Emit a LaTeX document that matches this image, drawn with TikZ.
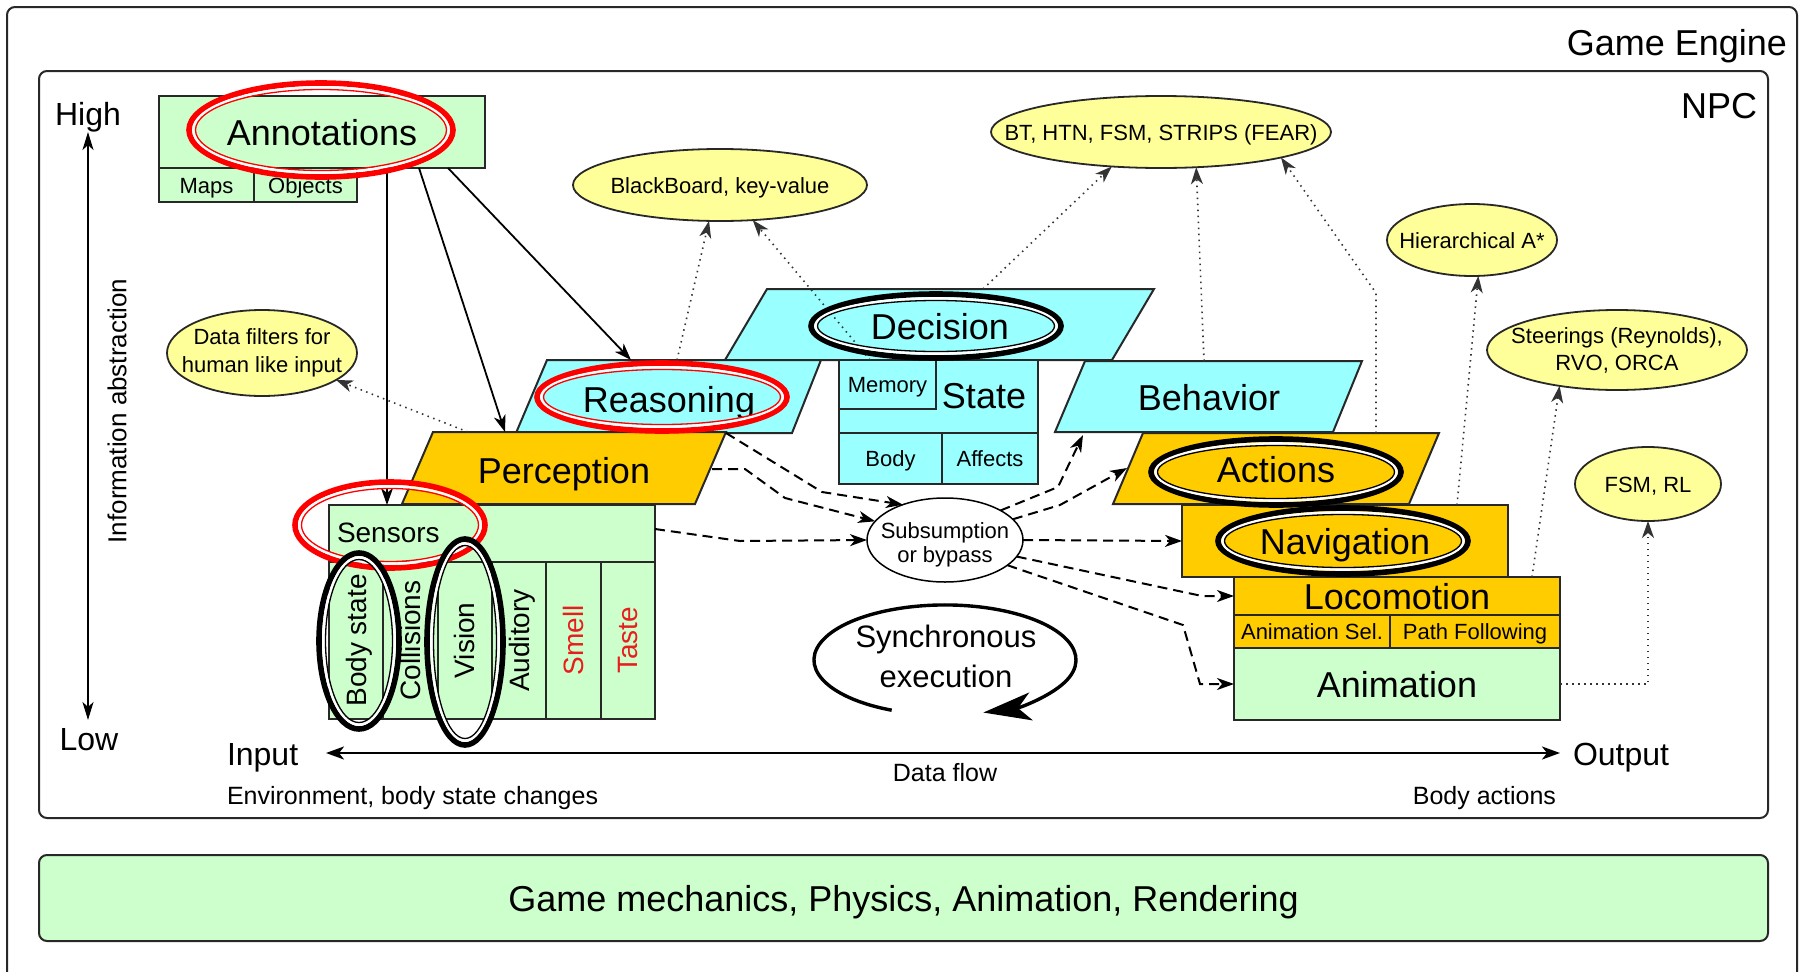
\documentclass[tikz,border=0pt]{standalone}
\usepackage{fontspec}
\setmainfont{Liberation Sans}
\usetikzlibrary{arrows.meta,shapes.geometric}
\definecolor{lgreen}{RGB}{204,255,204}
\definecolor{lcyan}{RGB}{153,255,255}
\definecolor{lorange}{RGB}{255,204,0}
\definecolor{lyellow}{RGB}{255,255,153}
\definecolor{bord}{RGB}{40,40,40}
\definecolor{sred}{RGB}{232,30,30}
\newcommand{\FSz}[2]{\fontsize{#1}{#2}\selectfont}
\newcommand{\DblEll}[5]{%
  \draw[#1, line width=5.6pt] (#2,#3) ellipse [x radius=#4, y radius=#5];
  \draw[white, line width=2.6pt] (#2,#3) ellipse [x radius=#4-4.5, y radius=#5-4.5];
  \draw[#1, line width=1.3pt] (#2,#3) ellipse [x radius=#4-6.5, y radius=#5-6.5];}
\tikzset{
  bx/.style={draw=bord, line width=2pt, inner sep=0pt, outer sep=0pt},
  gbox/.style={bx, fill=lgreen},
  cbox/.style={bx, fill=lcyan},
  obox/.style={bx, fill=lorange},
  para/.style={draw=bord, line width=2pt},
  f36/.style={font=\FSz{36}{42}, text height=26pt, text depth=0pt},
  f22/.style={font=\FSz{22}{27}, text height=16pt, text depth=0pt},
  f28/.style={font=\FSz{28}{32}, text height=20pt, text depth=0pt},
  tx/.style={inner sep=0pt, outer sep=0pt},
  yel/.style={ellipse, draw=bord, line width=1.8pt, fill=lyellow, inner sep=0pt, outer sep=0pt},
  arrowtip/.style={-{Stealth[length=17pt,width=12pt,inset=5pt]}},
  solidc/.style={line width=1.8pt, arrowtip},
  dashc/.style={line width=2pt, dash pattern=on 10pt off 6pt, arrowtip},
  dotc/.style={line width=1.6pt, dash pattern=on 1.5pt off 4.5pt, draw=black!80, arrowtip},
  frame/.style={draw=bord, line width=2pt, rounded corners=8pt},
}
\begin{document}
\begin{tikzpicture}[x=1pt,y=-1pt]
\useasboundingbox (0,0) rectangle (1800,972);
\clip (0,0) rectangle (1800,972);
\fill[white] (0,0) rectangle (1800,972);

% frames
\draw[frame] (7,7) rectangle (1797,1010);
\draw[frame] (39,71) rectangle (1768,818);
\node[tx, font=\FSz{36}{42}, anchor=base east] (ge) at (1787,55) {Game Engine};
\node[tx, font=\FSz{36}{42}, anchor=base east] (npc) at (1757,118) {NPC};
\node[gbox, minimum width=1729, minimum height=86, rounded corners=8pt, f36] (gm) at (903.5,898) {Game mechanics, Physics, Animation, Rendering};

% abstraction axis
\node[tx, font=\FSz{32}{36}, anchor=base] (high) at (88,125) {High};
\node[tx, font=\FSz{32}{36}, anchor=base] (low) at (89,750) {Low};
\coordinate (hiTip) at (88,132);
\coordinate (loTip) at (88,720);
\draw[line width=2pt, {Stealth[length=18pt,width=11pt,inset=5pt]}-{Stealth[length=18pt,width=11pt,inset=5pt]}] (hiTip) -- (loTip);
\node[tx, font=\FSz{26}{30}, rotate=90] (infab) at (117,411) {Information abstraction};

% data flow axis
\node[tx, font=\FSz{32}{36}, anchor=base west] (input) at (227,765) {Input};
\node[tx, font=\FSz{32}{36}, anchor=base west] (output) at (1573,765) {Output};
\coordinate (inTip) at (326,753);
\coordinate (outTip) at (1560,753);
\draw[line width=2.5pt, {Stealth[length=18pt,width=13pt,inset=5pt]}-{Stealth[length=18pt,width=13pt,inset=5pt]}] (inTip) -- (outTip);
\node[tx, font=\FSz{25}{30}, anchor=base] (dflow) at (945,781) {Data flow};
\node[tx, font=\FSz{25}{30}, anchor=base west] (envt) at (227,804) {Environment, body state changes};
\node[tx, font=\FSz{25}{30}, anchor=base east] (bact) at (1556,804) {Body actions};

% annotations
\node[gbox, minimum width=326, minimum height=72, f36] (annot) at (322,132) {Annotations};
\node[gbox, minimum width=95, minimum height=34, f22] (maps) at (206.5,185) {Maps};
\node[gbox, minimum width=103, minimum height=34, f22] (objs) at (305.5,185) {Objects};

% yellow ellipses
\node[yel, minimum width=294, minimum height=72] (bb) at (720,185) {};
\node[tx, f22] (bbt) at (bb.center) {BlackBoard, key-value};
\node[yel, minimum width=190, minimum height=86] (df) at (262,353) {};
\node[tx, font=\FSz{22}{28}, align=center] (dft) at (df.center) {Data filters for\\human like input};
\node[yel, minimum width=340, minimum height=72] (bt) at (1161,132) {};
\node[tx, f22] (btt) at (bt.center) {BT, HTN, FSM, STRIPS (FEAR)};
\node[yel, minimum width=170, minimum height=72] (ha) at (1472,240) {};
\node[tx, f22] (hat) at (ha.center) {Hierarchical A*};
\node[yel, minimum width=260, minimum height=80] (st) at (1617,350) {};
\node[tx, font=\FSz{22}{27}, align=center] (stt) at (st.center) {Steerings (Reynolds),\\RVO, ORCA};
\node[yel, minimum width=146, minimum height=74] (fsm) at (1648,484) {};
\node[tx, f22] (fsmt) at (fsm.center) {FSM, RL};

% decision / reasoning / state / behavior
\draw[para, fill=lcyan] (725,360) -- (1112,360) -- (1154,289) -- (767,289) -- cycle;
\node[tx, font=\FSz{36}{42}, anchor=base] (dec) at (940,339) {Decision};
\draw[para, fill=lcyan] (516,433) -- (792,433) -- (821,360) -- (547,360) -- cycle;
\node[tx, font=\FSz{36}{42}, anchor=base] (reas) at (669,412) {Reasoning};
\node[cbox, minimum width=199, minimum height=73] (state) at (938.5,396.5) {};
\node[tx, font=\FSz{36}{42}, anchor=base] (statet) at (984,408) {State};
\node[cbox, minimum width=97, minimum height=49, f22] (mem) at (887.5,384.5) {Memory};
\node[cbox, minimum width=103, minimum height=51, f22] (body) at (890.5,458.5) {Body};
\node[cbox, minimum width=96, minimum height=51, f22] (aff) at (990,458.5) {Affects};
\draw[para, fill=lcyan] (1055,432) -- (1333,432) -- (1362,361) -- (1085,361) -- cycle;
\node[tx, font=\FSz{36}{42}, anchor=base] (beh) at (1209,410) {Behavior};

% perception and sensors
\draw[para, fill=lorange] (402,504) -- (695,504) -- (726,432) -- (433,432) -- cycle;
\node[tx, font=\FSz{36}{42}, anchor=base] (perc) at (564,483) {Perception};
\node[gbox, minimum width=326, minimum height=57] (sens) at (492,533.5) {};
\node[tx, font=\FSz{28}{32}, anchor=base west] (senst) at (337,542) {Sensors};
\node[gbox, minimum width=157, minimum height=54.33, rotate=90, f28] (cbody) at (356.2,640.5) {Body state};
\node[gbox, minimum width=157, minimum height=54.33, rotate=90, f28] (ccoll) at (410.5,640.5) {Collisions};
\node[gbox, minimum width=157, minimum height=54.33, rotate=90, f28] (cvis) at (464.8,640.5) {Vision};
\node[gbox, minimum width=157, minimum height=54.33, rotate=90, f28] (caud) at (519.2,640.5) {Auditory};
\node[gbox, minimum width=157, minimum height=54.33, rotate=90, f28, text=sred] (csme) at (573.5,640.5) {Smell};
\node[gbox, minimum width=157, minimum height=54.33, rotate=90, f28, text=sred] (ctas) at (627.8,640.5) {Taste};

% actions, navigation, locomotion, animation
\draw[para, fill=lorange] (1113,504) -- (1409,504) -- (1439,433) -- (1143,433) -- cycle;
\node[tx, font=\FSz{36}{42}, anchor=base] (act) at (1276,482) {Actions};
\node[obox, minimum width=326, minimum height=72, f36] (nav) at (1345,541) {Navigation};
\node[obox, minimum width=326, minimum height=38, f36] (loco) at (1397,596) {Locomotion};
\node[obox, minimum width=156, minimum height=33, f22] (asel) at (1312,631.5) {Animation Sel.};
\node[obox, minimum width=170, minimum height=33, f22] (pfol) at (1475,631.5) {Path Following};
\node[gbox, minimum width=326, minimum height=72, f36] (anim) at (1397,684) {Animation};

% subsumption
\node[ellipse, draw=black, line width=1.5pt, fill=white, minimum width=156, minimum height=84, inner sep=0pt, outer sep=0pt] (sub) at (945,540) {};
\node[tx, font=\FSz{22}{24}, align=center] (subt) at (945,545) {Subsumption\\or bypass};

% synchronous execution
\node[tx, font=\FSz{31}{40}, align=center] (sync) at (946,656) {Synchronous\\execution};
\coordinate (syncStart) at (891.7,710.2);
\draw[line width=3.4pt, -{Stealth[length=48pt,width=28pt,inset=13pt]}] (syncStart) arc[start angle=114, end angle=433, x radius=131, y radius=55];

% solid arrows from annotations
\coordinate (anA) at (387,168);
\coordinate (anB) at (419,168);
\coordinate (anC) at (448,168);
\coordinate (sensTop) at (387,505);
\coordinate (percTop) at (505,432);
\coordinate (reasTop) at (631,360);
\draw[solidc] (anA) -- (sensTop);
\draw[solidc] (anB) -- (percTop);
\draw[solidc] (anC) -- (reasTop);

% dotted arrows
\coordinate (percTopL) at (468,432);
\coordinate (reasTopR) at (677,360);
\coordinate (memTop) at (870,360);
\coordinate (decTop) at (983,289);
\coordinate (behTop) at (1204,361);
\coordinate (actTop) at (1376,433);
\coordinate (actBend) at (1376,293);
\coordinate (navTop) at (1457,505);
\coordinate (locTop) at (1532,577);
\draw[dotc] (percTopL) -- (df.340);
\draw[dotc] (reasTopR) -- (bb.253);
\draw[dotc] (memTop) -- (bb.313);
\draw[dotc] (decTop) -- (bt.215);
\draw[dotc] (behTop) -- (bt.315);
\draw[dotc] (actTop) -- (actBend) -- (bt.348);
\draw[dotc] (navTop) -- (ha.280);
\draw[dotc] (locTop) -- (st.212);
\draw[dotc] (anim.east) -| (fsm.south);

% dashed arrows
\coordinate (percTR) at (726,433);
\coordinate (percR) at (712,469);
\coordinate (sensR) at (655,529);
\coordinate (behBot) at (1083,435);
\coordinate (actL) at (1127,468);
\draw[dashc] (percTR) -- (822,492) -- (sub.140);
\draw[dashc] (percR) -- (745,469) -- (785,498) -- (sub.165);
\draw[dashc] (sensR) -- (740,541) -- (sub.180);
\draw[dashc] (sub.28) -- (1058,487) -- (behBot);
\draw[dashc] (sub.17) -- (1060,505) -- (actL);
\draw[dashc] (sub.0) -- (nav.west);
\draw[dashc] (sub.347) -- (1202,596) -- (loco.west);
\draw[dashc] (sub.338) -- (1183,625) -- (1200,684) -- (anim.west);

% highlight ellipses
\DblEll{red}{321}{130}{132}{47}
\DblEll{red}{662}{397}{125}{34}
\DblEll{black}{936}{326}{125}{32}
\DblEll{red}{390}{525}{95}{43}
\DblEll{black}{359}{641}{40}{88}
\DblEll{black}{465}{642}{38}{103}
\DblEll{black}{1276}{472}{125}{33}
\DblEll{black}{1343}{541}{125}{33}
\end{tikzpicture}
\end{document}
